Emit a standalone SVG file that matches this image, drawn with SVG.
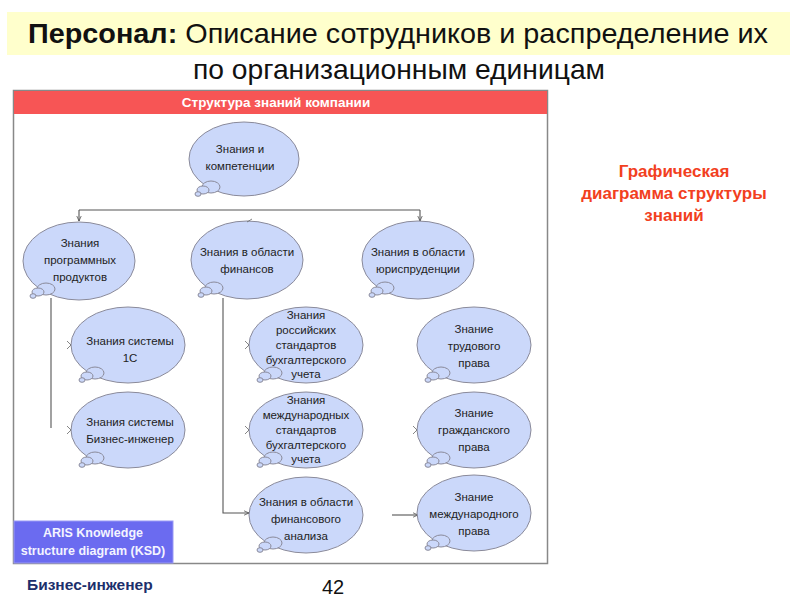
<svg xmlns="http://www.w3.org/2000/svg" xmlns:xlink="http://www.w3.org/1999/xlink" width="800" height="600" viewBox="0 0 800 600">
<style>
.bub{fill:#cbd8fa;stroke:#8a8a9a;stroke-width:1}
.t{font-family:"Liberation Sans",Arial,sans-serif;font-size:11.5px;fill:#222;text-anchor:middle}
.con{fill:none;stroke:#555;stroke-width:1.1}
.tick{fill:none;stroke:#666;stroke-width:0.8}
</style>
<defs>
<marker id="arr" viewBox="0 0 10 10" refX="9" refY="5" markerWidth="6" markerHeight="6" orient="auto" markerUnits="userSpaceOnUse">
<path d="M0,1 L9,5 L0,9" fill="none" stroke="#444" stroke-width="1.2"/>
</marker>
<g id="tail">
<ellipse class="bub" cx="-33" cy="28" rx="9" ry="6"/>
<ellipse class="bub" cx="-41" cy="31" rx="6" ry="4"/>
<ellipse class="bub" cx="-46" cy="35" rx="3" ry="2.3"/>
</g>
</defs>
<rect width="800" height="600" fill="#fff"/>
<g id="title">
<rect x="7" y="12" width="783" height="43" fill="#ffffcc"/>
<text x="398" y="43" font-family="'Liberation Sans',Arial,sans-serif" font-size="28" fill="#111" text-anchor="middle" textLength="740" lengthAdjust="spacingAndGlyphs"><tspan font-weight="bold">Персонал:</tspan> Описание сотрудников и распределение их</text>
<text x="399" y="79" font-family="'Liberation Sans',Arial,sans-serif" font-size="28" fill="#111" text-anchor="middle" textLength="412" lengthAdjust="spacingAndGlyphs">по организационным единицам</text>
</g>
<g id="frame">
<rect x="13.5" y="90.5" width="534" height="473" fill="#fff" stroke="#888" stroke-width="1.5"/>
<rect x="14" y="91" width="533" height="23" fill="#f75555"/>
<text x="276" y="107" font-family="'Liberation Sans',Arial,sans-serif" font-size="13.5" font-weight="bold" fill="#fff" text-anchor="middle">Структура знаний компании</text>
</g>
<g id="connectors">
<path class="con" d="M79,210 H420"/>
<path class="con" d="M79,210 V221" marker-end="url(#arr)"/>
<path class="con" d="M420,210 V221" marker-end="url(#arr)"/>
<path class="con" d="M51,298 V428"/>
<path class="con" d="M223,298 V513 H249" marker-end="url(#arr)"/>
<path class="con" d="M392,515 H418" marker-end="url(#arr)"/>
</g>
<g id="n0"><ellipse class="bub" cx="244" cy="159" rx="55" ry="37"/><use xlink:href="#tail" x="244" y="159"/>
<text class="t" x="240"><tspan x="240" y="153">Знания и</tspan><tspan x="240" y="170">компетенции</tspan></text></g>
<g id="n1"><ellipse class="bub" cx="79" cy="261" rx="56" ry="39"/><use xlink:href="#tail" x="79" y="261"/>
<text class="t"><tspan x="80" y="247">Знания</tspan><tspan x="80" y="264">программных</tspan><tspan x="80" y="281">продуктов</tspan></text></g>
<g id="n2"><ellipse class="bub" cx="247" cy="260" rx="56" ry="39"/><use xlink:href="#tail" x="247" y="260"/>
<text class="t"><tspan x="247" y="256">Знания в области</tspan><tspan x="247" y="273">финансов</tspan></text>
<path class="tick" d="M247,222 l5,-3"/></g>
<g id="n3"><ellipse class="bub" cx="418" cy="260" rx="56" ry="39"/><use xlink:href="#tail" x="418" y="260"/>
<text class="t"><tspan x="418" y="256">Знания в области</tspan><tspan x="418" y="273">юриспруденции</tspan></text></g>
<g id="n4"><ellipse class="bub" cx="128" cy="345" rx="57" ry="38"/><use xlink:href="#tail" x="128" y="345"/>
<text class="t"><tspan x="130" y="345">Знания системы</tspan><tspan x="130" y="362">1С</tspan></text>
<path class="tick" d="M67,341 l4,4 l-4,4"/></g>
<g id="n5"><ellipse class="bub" cx="128" cy="430" rx="57" ry="38"/><use xlink:href="#tail" x="128" y="430"/>
<text class="t"><tspan x="130" y="426">Знания системы</tspan><tspan x="130" y="443">Бизнес-инженер</tspan></text>
<path class="tick" d="M67,426 l4,4 l-4,4"/></g>
<g id="n6"><ellipse class="bub" cx="306" cy="345" rx="57" ry="38"/><use xlink:href="#tail" x="306" y="345"/>
<text class="t"><tspan x="306" y="319">Знания</tspan><tspan x="306" y="334">российских</tspan><tspan x="306" y="349">стандартов</tspan><tspan x="306" y="364">бухгалтерского</tspan><tspan x="306" y="378">учета</tspan></text>
<path class="tick" d="M245,341 l4,4 l-4,4"/></g>
<g id="n7"><ellipse class="bub" cx="306" cy="430" rx="57" ry="38"/><use xlink:href="#tail" x="306" y="430"/>
<text class="t"><tspan x="306" y="404">Знания</tspan><tspan x="306" y="419">международных</tspan><tspan x="306" y="434">стандартов</tspan><tspan x="306" y="449">бухгалтерского</tspan><tspan x="306" y="463">учета</tspan></text>
<path class="tick" d="M245,426 l4,4 l-4,4"/></g>
<g id="n8"><ellipse class="bub" cx="306" cy="515" rx="57" ry="38"/><use xlink:href="#tail" x="306" y="515"/>
<text class="t"><tspan x="306" y="506">Знания в области</tspan><tspan x="306" y="523">финансового</tspan><tspan x="306" y="540">анализа</tspan></text></g>
<g id="n9"><ellipse class="bub" cx="474" cy="345" rx="57" ry="38"/><use xlink:href="#tail" x="474" y="345"/>
<text class="t"><tspan x="474" y="333">Знание</tspan><tspan x="474" y="350">трудового</tspan><tspan x="474" y="367">права</tspan></text></g>
<g id="n10"><ellipse class="bub" cx="474" cy="430" rx="57" ry="38"/><use xlink:href="#tail" x="474" y="430"/>
<text class="t"><tspan x="474" y="417">Знание</tspan><tspan x="474" y="434">гражданского</tspan><tspan x="474" y="451">права</tspan></text>
<path class="tick" d="M413,426 l4,4 l-4,4"/></g>
<g id="n11"><ellipse class="bub" cx="474" cy="513" rx="57" ry="38"/><use xlink:href="#tail" x="474" y="513"/>
<text class="t"><tspan x="474" y="501">Знание</tspan><tspan x="474" y="518">международного</tspan><tspan x="474" y="535">права</tspan></text></g>
<g id="aris">
<rect x="14" y="521" width="159" height="42" fill="#6b6bf0" stroke="#9a9af5" stroke-width="1"/>
<text font-family="'Liberation Sans',Arial,sans-serif" font-size="12.5" font-weight="bold" fill="#f4f4ff" text-anchor="middle"><tspan x="93" y="537">ARIS Knowledge</tspan><tspan x="93" y="555">structure diagram  (KSD)</tspan></text>
</g>
<g id="note">
<text font-family="'Liberation Sans',Arial,sans-serif" font-size="17" font-weight="bold" fill="#f2401e" text-anchor="middle"><tspan x="674" y="177">Графическая</tspan><tspan x="674" y="199">диаграмма структуры</tspan><tspan x="674" y="221">знаний</tspan></text>
</g>
<g id="footer">
<text x="27" y="590" font-family="'Liberation Sans',Arial,sans-serif" font-size="15.5" font-weight="bold" fill="#1c2f6b">Бизнес-инженер</text>
<text x="333" y="594" font-family="'Liberation Sans',Arial,sans-serif" font-size="20" fill="#111" text-anchor="middle">42</text>
</g>
</svg>
